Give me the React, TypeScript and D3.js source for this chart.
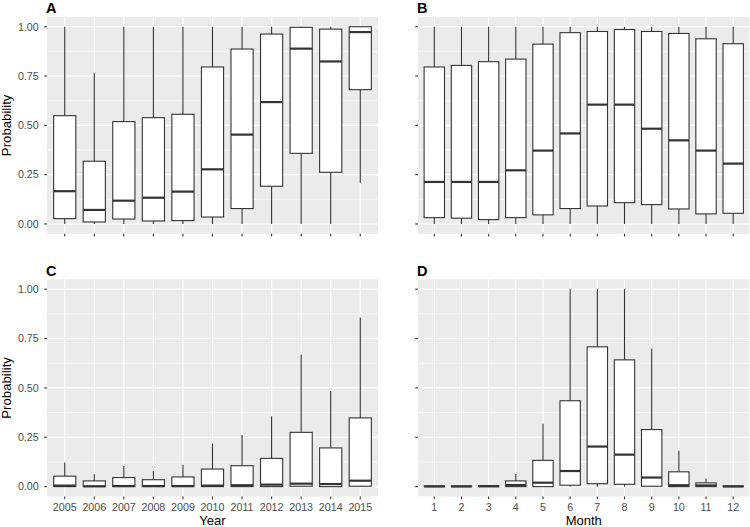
import React from "react";
import * as d3 from "d3";

const years = ["2005","2006","2007","2008","2009","2010","2011","2012","2013","2014","2015"];
const months = ["1","2","3","4","5","6","7","8","9","10","11","12"];
const yTicks = [0, 0.25, 0.5, 0.75, 1];
const yTickLabels = ["0.00", "0.25", "0.50", "0.75", "1.00"];

// Box stats: [lowerWhisker, q1, median, q3, upperWhisker]
const panelAStats: number[][] = [
  [0, 0.027, 0.166, 0.549, 1.0],
  [0, 0.010, 0.071, 0.318, 0.764],
  [0, 0.025, 0.118, 0.519, 1.0],
  [0, 0.015, 0.133, 0.539, 1.0],
  [0, 0.017, 0.164, 0.556, 1.0],
  [0, 0.035, 0.277, 0.796, 1.0],
  [0, 0.078, 0.453, 0.887, 1.0],
  [0, 0.191, 0.618, 0.963, 1.0],
  [0, 0.358, 0.889, 0.997, 1.0],
  [0, 0.262, 0.824, 0.988, 1.0],
  [0.209, 0.681, 0.973, 1.0, 1.0],
];
const panelBStats: number[][] = [
  [0, 0.032, 0.213, 0.796, 1.0],
  [0, 0.029, 0.213, 0.804, 1.0],
  [0, 0.022, 0.213, 0.823, 1.0],
  [0, 0.032, 0.272, 0.836, 1.0],
  [0, 0.046, 0.372, 0.912, 1.0],
  [0, 0.078, 0.459, 0.970, 1.0],
  [0, 0.091, 0.605, 0.976, 1.0],
  [0, 0.108, 0.605, 0.986, 1.0],
  [0, 0.098, 0.483, 0.976, 1.0],
  [0, 0.076, 0.424, 0.966, 1.0],
  [0, 0.051, 0.372, 0.939, 1.0],
  [0, 0.054, 0.306, 0.914, 1.0],
];
const panelCStats: number[][] = [
  [0, 0.0, 0.005, 0.053, 0.122],
  [0, 0.0, 0.002, 0.029, 0.063],
  [0, 0.0, 0.003, 0.046, 0.105],
  [0, 0.0, 0.003, 0.035, 0.079],
  [0, 0.0, 0.003, 0.049, 0.111],
  [0, 0.0, 0.005, 0.089, 0.218],
  [0, 0.0, 0.007, 0.106, 0.262],
  [0, 0.0, 0.010, 0.143, 0.356],
  [0, 0.002, 0.015, 0.275, 0.668],
  [0, 0.0, 0.013, 0.196, 0.484],
  [0, 0.002, 0.030, 0.348, 0.857],
];
const panelDStats: number[][] = [
  [0, 0.0, 0.001, 0.003, 0.004],
  [0, 0.0, 0.001, 0.003, 0.004],
  [0, 0.0, 0.002, 0.005, 0.006],
  [0, 0.0, 0.008, 0.029, 0.064],
  [0, 0.0, 0.020, 0.133, 0.319],
  [0, 0.007, 0.079, 0.435, 1.0],
  [0, 0.015, 0.203, 0.708, 1.0],
  [0, 0.012, 0.162, 0.642, 1.0],
  [0, 0.002, 0.046, 0.289, 0.700],
  [0, 0.0, 0.007, 0.075, 0.182],
  [0, 0.0, 0.006, 0.019, 0.041],
  [0, 0.0, 0.001, 0.003, 0.004],
];

const FONT = "'Liberation Sans', Arial, Helvetica, sans-serif";

type PanelProps = {
  x0: number; x1: number; y0: number; y1: number;
  cats: string[]; stats: number[][]; label: string;
  showYLabels: boolean; showXLabels: boolean; xTitle?: string;
};

function Panel({ x0, x1, y0, y1, cats, stats, label, showYLabels, showXLabels, xTitle }: PanelProps) {
  const x = d3.scalePoint<string>().domain(cats).range([x0, x1]).padding(0.6);
  const y = d3.scaleLinear().domain([-0.05, 1.05]).range([y1, y0]);
  const step = x.step();
  const bw = step * 0.75;
  const minor = [0.125, 0.375, 0.625, 0.875];
  return (
    <g>
      <rect x={x0} y={y0} width={x1 - x0} height={y1 - y0} fill="#EBEBEB" />
      {minor.map((v) => (
        <line key={"mi" + v} x1={x0} x2={x1} y1={y(v)} y2={y(v)} stroke="#FFFFFF" strokeWidth={0.55} />
      ))}
      {yTicks.map((v) => (
        <line key={"ma" + v} x1={x0} x2={x1} y1={y(v)} y2={y(v)} stroke="#FFFFFF" strokeWidth={1.1} />
      ))}
      {cats.map((c) => (
        <line key={"vx" + c} x1={x(c)!} x2={x(c)!} y1={y0} y2={y1} stroke="#FFFFFF" strokeWidth={1.1} />
      ))}
      {stats.map((s, i) => {
        const cx = x(cats[i])!;
        const [lw, q1, med, q3, uw] = s;
        return (
          <g key={"b" + i}>
            <line x1={cx} x2={cx} y1={y(uw)} y2={y(q3)} stroke="#333333" strokeWidth={1.1} />
            <line x1={cx} x2={cx} y1={y(q1)} y2={y(lw)} stroke="#333333" strokeWidth={1.1} />
            <rect x={cx - bw / 2} y={y(q3)} width={bw} height={Math.max(0, y(q1) - y(q3))}
              fill="#FFFFFF" stroke="#333333" strokeWidth={1.1} />
            <line x1={cx - bw / 2} x2={cx + bw / 2} y1={y(med)} y2={y(med)} stroke="#333333" strokeWidth={2.2} />
          </g>
        );
      })}
      {yTicks.map((v, i) => (
        <g key={"yt" + v}>
          <line x1={x0 - 2.8} x2={x0} y1={y(v)} y2={y(v)} stroke="#333333" strokeWidth={1.1} />
          {showYLabels && (
            <text x={x0 - 8.3} y={y(v)} dy="0.35em" textAnchor="end" fontSize={10.7}
              fill="#4D4D4D" fontFamily={FONT}>{yTickLabels[i]}</text>
          )}
        </g>
      ))}
      {cats.map((c) => (
        <g key={"xt" + c}>
          <line x1={x(c)!} x2={x(c)!} y1={y1} y2={y1 + 2.8} stroke="#333333" strokeWidth={1.1} />
          {showXLabels && (
            <text x={x(c)!} y={y1 + 14} textAnchor="middle" fontSize={10.7}
              fill="#4D4D4D" fontFamily={FONT}>{c}</text>
          )}
        </g>
      ))}
      {xTitle && (
        <text x={(x0 + x1) / 2} y={524.5} textAnchor="middle" fontSize={13} fill="#000000"
          fontFamily={FONT}>{xTitle}</text>
      )}
      {showYLabels && (
        <text transform={`translate(10.7, ${(y0 + y1) / 2}) rotate(-90)`} textAnchor="middle"
          fontSize={13.2} fill="#000000" fontFamily={FONT}>Probability</text>
      )}
      <text x={x0 - 1} y={y0 - 3.6} fontSize={14.5} fontWeight="bold" fill="#000000" fontFamily={FONT}>{label}</text>
    </g>
  );
}

export default function App() {
  return (
    <svg width={750} height={527} style={{ position: "absolute", left: 0, top: 0, background: "#FFFFFF" }}>
      <rect x={0} y={0} width={750} height={527} fill="#FFFFFF" />
      <Panel x0={47} x1={378} y0={16.9} y1={233.8} cats={years} stats={panelAStats} label="A"
        showYLabels={true} showXLabels={false} />
      <Panel x0={418} x1={749.5} y0={16.9} y1={233.8} cats={months} stats={panelBStats} label="B"
        showYLabels={false} showXLabels={false} />
      <Panel x0={47} x1={378} y0={279.3} y1={496.5} cats={years} stats={panelCStats} label="C"
        showYLabels={true} showXLabels={true} xTitle="Year" />
      <Panel x0={418} x1={749.5} y0={279.3} y1={496.5} cats={months} stats={panelDStats} label="D"
        showYLabels={false} showXLabels={true} xTitle="Month" />
    </svg>
  );
}
